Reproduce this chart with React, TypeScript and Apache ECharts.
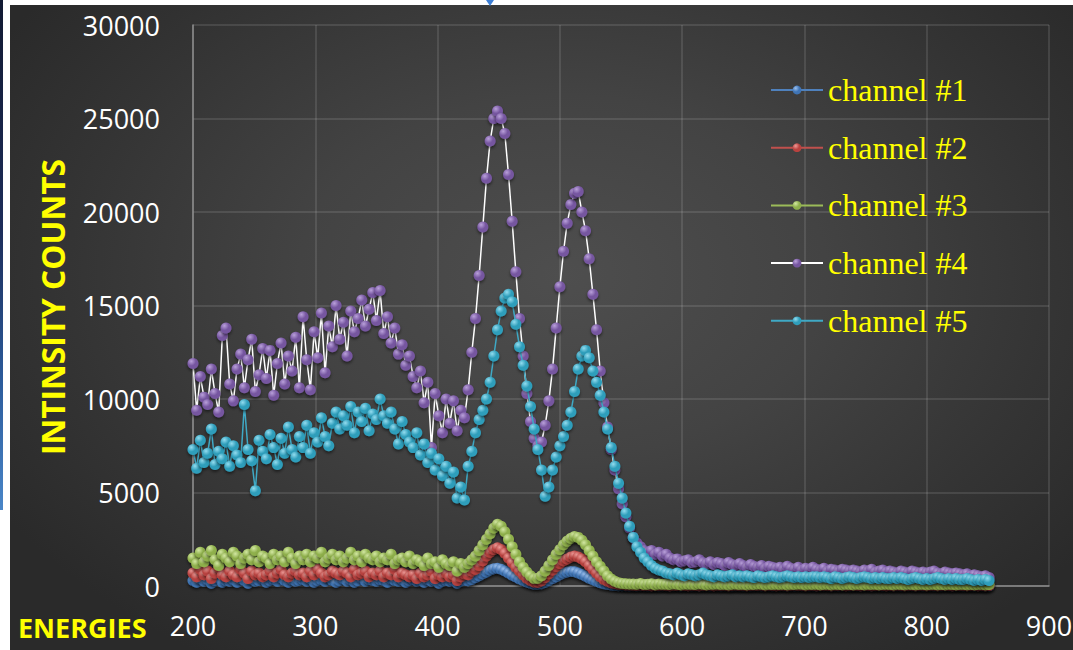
import { useEffect, useRef } from "react";
import * as echarts from "echarts";

// Energy grid of the spectra (start and spacing of the sampled energies)
const ENERGY_START = 200;
const ENERGY_STEP = 3;

const X_MIN = 200;
const X_MAX = 900;
const X_INTERVAL = 100;
const Y_MIN = 0;
const Y_MAX = 30000;
const Y_INTERVAL = 5000;

const CHANNEL_NAMES = ["channel #1", "channel #2", "channel #3", "channel #4", "channel #5"];

const CH1 = [
  300, 200, 400, 250, 350, 150, 300, 450, 200, 300,
  250, 350, 200, 400, 300, 150, 350, 250, 300, 400,
  200, 300, 350, 250, 450, 300, 200, 350, 250, 300,
  350, 250, 400, 200, 300, 350, 250, 450, 300, 200,
  300, 400, 250, 350, 200, 300, 450, 250, 350, 300,
  250, 350, 300, 200, 400, 300, 250, 350, 200, 300,
  350, 250, 300, 200, 350, 250, 300, 150, 250, 300,
  250, 300, 150, 250, 300, 280, 350, 450, 550, 650,
  750, 850, 920, 950, 900, 800, 700, 580, 480, 380,
  300, 220, 150, 100, 90, 120, 200, 300, 400, 500,
  600, 700, 750, 780, 760, 700, 620, 520, 420, 330,
  250, 180, 120, 80, 50, 30, 20, 10, 10, 0,
  10, 0, 10, 20, 0, 10, 10, 0, 20, 10,
  0, 10, 10, 0, 20, 10, 0, 10, 0, 10,
  10, 0, 20, 10, 0, 10, 10, 0, 10, 20,
  0, 10, 0, 10, 20, 0, 10, 10, 0, 10,
  10, 20, 0, 10, 0, 10, 20, 10, 0, 10,
  0, 10, 10, 20, 0, 10, 0, 10, 10, 0,
  20, 10, 0, 10, 10, 0, 10, 20, 0, 10,
  10, 0, 10, 0, 20, 10, 10, 0, 10, 0,
  10, 20, 0, 10, 0, 10, 10, 0, 20, 10,
  0, 10, 10, 0, 10, 20, 0, 10,
];

const CH2 = [
  700, 500, 900, 600, 800, 400, 700, 1000, 600, 500,
  800, 600, 500, 900, 700, 400, 800, 600, 700, 500,
  600, 800, 500, 700, 900, 600, 500, 700, 800, 600,
  700, 500, 800, 600, 900, 700, 500, 600, 800, 700,
  600, 800, 700, 500, 900, 600, 700, 800, 500, 700,
  600, 800, 500, 700, 600, 900, 500, 700, 600, 500,
  600, 400, 700, 500, 600, 800, 400, 600, 500, 700,
  500, 600, 300, 500, 650, 600, 800, 900, 1100, 1350,
  1600, 1800, 1950, 2050, 1950, 1750, 1500, 1250, 1000, 800,
  600, 420, 300, 220, 200, 280, 450, 650, 850, 1050,
  1200, 1350, 1450, 1550, 1600, 1550, 1450, 1300, 1100, 900,
  700, 500, 350, 250, 180, 130, 100, 80, 60, 50,
  40, 30, 50, 30, 40, 20, 40, 30, 50, 30,
  20, 40, 30, 50, 30, 20, 40, 30, 20, 40,
  30, 50, 20, 40, 30, 40, 20, 30, 50, 30,
  40, 20, 30, 40, 30, 50, 20, 40, 30, 20,
  30, 40, 20, 30, 50, 30, 40, 20, 30, 40,
  20, 30, 40, 30, 20, 40, 30, 50, 20, 30,
  40, 30, 20, 40, 30, 20, 30, 40, 30, 20,
  30, 20, 40, 30, 20, 30, 40, 20, 30, 40,
  20, 30, 40, 20, 30, 40, 30, 20, 40, 30,
  30, 20, 30, 40, 20, 30, 20, 30,
];

const CH3 = [
  1500, 1200, 1800, 1300, 1600, 1900, 1400, 1100, 1700, 1500,
  1300, 1800, 1600, 1200, 1500, 1700, 1400, 1900, 1300, 1600,
  1500, 1200, 1700, 1400, 1600, 1300, 1800, 1500, 1200, 1600,
  1400, 1700, 1300, 1600, 1500, 1800, 1300, 1500, 1700, 1400,
  1600, 1300, 1500, 1800, 1400, 1600, 1300, 1700, 1500, 1400,
  1600, 1300, 1500, 1400, 1700, 1200, 1400, 1500, 1300, 1600,
  1200, 1400, 1300, 1100, 1500, 1200, 1300, 1000, 1400, 1200,
  1100, 1300, 800, 1200, 1000, 1200, 1400, 1600, 1900, 2200,
  2500, 2800, 3100, 3300, 3200, 2900, 2500, 2100, 1700, 1300,
  1000, 750, 550, 400, 420, 550, 800, 1100, 1400, 1700,
  1950, 2200, 2400, 2550, 2650, 2600, 2450, 2200, 1900, 1600,
  1300, 1050, 800, 550, 380, 250, 180, 140, 120, 110,
  110, 90, 130, 80, 100, 120, 70, 110, 90, 100,
  80, 120, 90, 70, 110, 90, 100, 80, 120, 90,
  70, 100, 90, 110, 80, 100, 70, 90, 110, 80,
  90, 70, 100, 80, 110, 90, 70, 100, 80, 90,
  80, 100, 70, 90, 80, 110, 90, 70, 90, 80,
  90, 70, 80, 100, 70, 90, 80, 70, 90, 80,
  70, 90, 80, 70, 90, 80, 100, 70, 80, 90,
  80, 70, 90, 80, 70, 90, 80, 70, 80, 90,
  70, 80, 90, 70, 80, 70, 90, 80, 70, 80,
  90, 70, 80, 70, 80, 90, 70, 80,
];

const CH4 = [
  11900, 9400, 11200, 10100, 9700, 11600, 10300, 9300, 13400, 13800,
  10800, 9900, 11600, 12400, 10600, 12100, 13200, 10400, 11300, 12700,
  11100, 12600, 10200, 11900, 13000, 10800, 12300, 11500, 13300, 10600,
  14400, 12100, 10500, 13600, 12200, 14600, 11400, 13900, 12800, 15000,
  13200, 14100, 12300, 14700, 13600, 14300, 15300, 13900, 14800, 15700,
  14200, 15800, 13500, 14400, 13000, 13800, 12400, 12900, 11800, 12300,
  11200, 10600, 11500, 9800, 10900, 7400, 10300, 9100, 8200, 10000,
  8700, 9900, 8300, 9400, 9000, 10500, 12500, 14300, 16600, 19200,
  21800, 23800, 25000, 25400, 25000, 24200, 22000, 19500, 16800, 14300,
  12300, 10300, 8800, 7900, 7500, 7700, 8600, 9900, 11600, 13800,
  16000, 17900, 19400, 20400, 21000, 21100, 20000, 19000, 17500, 15600,
  13700, 11500, 9800, 8500, 7300, 6200, 5200, 4400, 3700, 3100,
  2600, 2300, 2100, 1900, 1800, 1900, 1700, 1800, 1600, 1700,
  1500, 1400, 1450, 1300, 1350, 1400, 1250, 1300, 1400, 1250,
  1200, 1300, 1150, 1250, 1200, 1100, 1250, 1150, 1100, 1200,
  1100, 1000, 1150, 1050, 1000, 1100, 950, 1050, 1000, 950,
  1000, 900, 1050, 950, 900, 1000, 850, 950, 900, 1000,
  900, 850, 950, 800, 900, 850, 800, 900, 850, 800,
  850, 800, 750, 850, 800, 900, 750, 800, 850, 750,
  800, 750, 700, 800, 750, 700, 800, 750, 700, 750,
  700, 750, 800, 700, 650, 750, 700, 650, 700, 650,
  600, 650, 550, 600, 550, 500, 550, 450,
];

const CH5 = [
  7300, 6300, 7800, 6600, 7100, 8400, 6500, 7200, 6800, 7700,
  6400, 7500, 7000, 6600, 9700, 7300, 6700, 5100, 7800, 7200,
  6800, 8100, 7400, 6500, 7900, 7100, 8500, 7300, 6900, 8000,
  7400, 8600, 7100, 8200, 7700, 9000, 8000, 7500, 8700, 9300,
  8400, 9100, 8600, 9600, 8200, 9300, 8800, 9500, 8300, 9200,
  8900, 10000, 9100, 8700, 9300, 8400, 7600, 8800, 8100, 7700,
  7400, 8200, 7000, 7600, 6600, 7100, 6200, 6800, 5900, 6400,
  5500, 6100, 4700, 5300, 4600, 6400, 7200, 8200, 8900, 9400,
  10000, 10900, 12300, 13700, 14700, 15400, 15600, 15200, 14000, 12800,
  11800, 10700, 9600, 8400, 7300, 6200, 4800, 5300, 6200, 6900,
  7500, 8000, 8600, 9300, 10400, 11600, 12300, 12600, 12200, 11500,
  10900, 10200, 9300, 8400, 7400, 6400, 5500, 4700, 3900, 3200,
  2600, 2100, 1800, 1500, 1300, 1100, 950, 850, 800, 700,
  650, 600, 700, 600, 550, 650, 600, 550, 600, 700,
  600, 550, 500, 600, 550, 500, 550, 600, 500, 550,
  500, 550, 500, 450, 550, 500, 450, 500, 550, 500,
  450, 500, 550, 500, 450, 500, 450, 500, 450, 500,
  500, 450, 500, 450, 400, 500, 450, 400, 450, 500,
  450, 400, 450, 500, 450, 400, 450, 400, 450, 400,
  400, 450, 400, 450, 400, 350, 400, 450, 400, 350,
  400, 350, 400, 450, 400, 350, 400, 350, 400, 350,
  350, 400, 350, 300, 350, 300, 350, 300,
];

const CHANNEL_VALUES = [CH1, CH2, CH3, CH4, CH5];

// base colour, sphere highlight, line colour
const CHANNEL_COLORS = [
  { base: "#3f74b5", light: "#9cc0ee", line: "#4f81bd" },
  { base: "#b8423f", light: "#ee9a97", line: "#c0504d" },
  { base: "#8fb04c", light: "#d2e7a2", line: "#9bbb59" },
  { base: "#7656a0", light: "#b9a0da", line: "#ffffff" },
  { base: "#2f9ebb", light: "#92dcef", line: "#3fa9c5" },
];

function sphere(base: string, light: string) {
  return new echarts.graphic.RadialGradient(0.35, 0.3, 0.75, [
    { offset: 0, color: light },
    { offset: 0.55, color: base },
    { offset: 1, color: base },
  ]);
}

export default function App() {
  const ref = useRef<HTMLDivElement>(null);

  useEffect(() => {
    if (!ref.current) return;
    const chart = echarts.init(ref.current, null, { renderer: "svg" });

    const series = CHANNEL_VALUES.map((vals, k) => ({
      type: "line",
      name: CHANNEL_NAMES[k],
      data: vals.map((v, i) => [ENERGY_START + ENERGY_STEP * i, v]),
      symbol: "circle",
      symbolSize: 11,
      showAllSymbol: true,
      lineStyle: { color: CHANNEL_COLORS[k].line, width: 1.5 },
      itemStyle: {
        color: sphere(CHANNEL_COLORS[k].base, CHANNEL_COLORS[k].light),
        borderWidth: 0,
        shadowBlur: 3,
        shadowColor: "rgba(0,0,0,0.5)",
        shadowOffsetY: 2,
      },
      emphasis: { disabled: true },
      z: 2 + k,
    }));

    chart.setOption({
      animation: false,
      backgroundColor: "transparent",
      grid: {
        left: 183,
        top: 20,
        right: 24,
        bottom: 64,
        containLabel: false,
        outerBoundsMode: "none",
      },
      xAxis: {
        type: "value",
        min: X_MIN,
        max: X_MAX,
        interval: X_INTERVAL,
        axisLine: { show: true, lineStyle: { color: "#8e8e8e", width: 1.5 } },
        axisTick: { show: false },
        splitLine: { show: true, lineStyle: { color: "rgba(255,255,255,0.14)", width: 1.5 } },
        axisLabel: {
          color: "#ffffff",
          fontSize: 27,
          fontFamily: "Open Sans",
          margin: 26,
          formatter: (v: number) => String(v),
        },
      },
      yAxis: {
        type: "value",
        min: Y_MIN,
        max: Y_MAX,
        interval: Y_INTERVAL,
        axisLine: { show: true, lineStyle: { color: "#8e8e8e", width: 1.5 } },
        axisTick: { show: false },
        splitLine: { show: true, lineStyle: { color: "rgba(255,255,255,0.14)", width: 1.5 } },
        axisLabel: {
          color: "#ffffff",
          fontSize: 27,
          fontFamily: "Open Sans",
          margin: 33,
          formatter: (v: number) => String(v),
        },
      },
      legend: {
        orient: "vertical",
        left: 755,
        top: 64,
        itemWidth: 52,
        itemHeight: 11,
        itemGap: 25.7,
        selectedMode: false,
        data: CHANNEL_NAMES,
        textStyle: {
          color: "#ffff00",
          fontFamily: "Liberation Serif",
          fontSize: 32,
          lineHeight: 30,
        },
      },
      graphic: [
        {
          type: "text",
          x: 42,
          y: 302,
          rotation: Math.PI / 2,
          scaleX: 0.99,
          style: {
            text: "INTINSITY COUNTS",
            fill: "#ffff00",
            fontFamily: "Open Sans",
            fontWeight: "bold",
            fontSize: 32,
            align: "center",
            verticalAlign: "middle",
          },
        },
        {
          type: "text",
          x: 8,
          y: 622,
          style: {
            text: "ENERGIES",
            fill: "#ffff00",
            fontFamily: "Open Sans",
            fontWeight: "bold",
            fontSize: 27,
            align: "left",
            verticalAlign: "middle",
          },
        },
      ],
      series,
    });

    return () => chart.dispose();
  }, []);

  return (
    <div
      style={{
        position: "fixed",
        left: 0,
        top: 0,
        width: 1073,
        height: 650,
        background: "#ffffff",
        overflow: "hidden",
      }}
    >
      <div
        style={{
          position: "absolute",
          left: 0,
          top: 0,
          width: 3,
          height: 510,
          background: "linear-gradient(#121a33, #1d2d5a 45%, #2c5c9c 75%, #4a86c8)",
        }}
      />
      <div
        ref={ref}
        style={{
          position: "absolute",
          left: 10,
          top: 5,
          width: 1063,
          height: 645,
          background:
            "radial-gradient(ellipse 62% 70% at 52% 42%, #4e4e4e 0%, #434343 40%, #343434 75%, #2a2a2a 100%)",
        }}
      />
      <div
        style={{
          position: "absolute",
          left: 486,
          top: 0,
          width: 0,
          height: 0,
          borderLeft: "4px solid transparent",
          borderRight: "4px solid transparent",
          borderTop: "6px solid #3d7fd6",
        }}
      />
    </div>
  );
}
